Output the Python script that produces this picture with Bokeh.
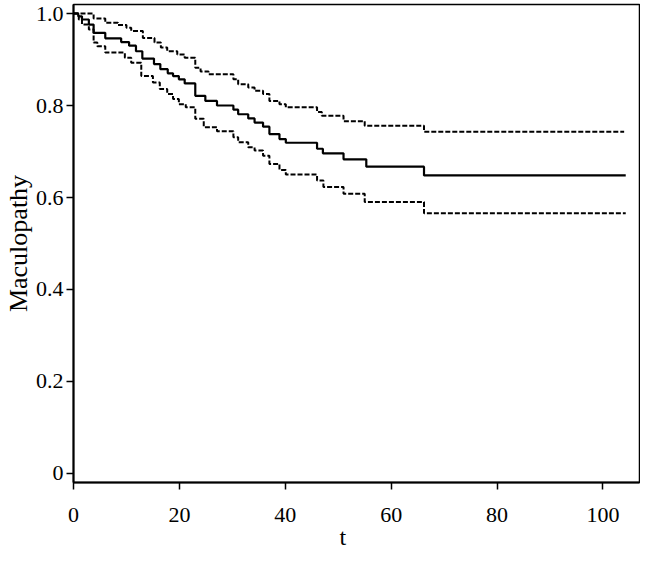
from bokeh.plotting import figure
from bokeh.models import Range1d, FixedTicker, Title
from bokeh.embed import file_html
from bokeh.resources import INLINE

# Kaplan-Meier estimate (step after each time)
t_km = [0, 0.9, 1.6, 2.9, 3.8, 6.0, 9.0, 10.5, 11.8, 13.0, 15.2, 16.4, 17.8, 18.8, 19.9, 21.0,
        23.0, 24.9, 27.1, 30.2, 31.1, 33.0, 34.2, 35.8, 37.0, 38.9, 40.1, 46.0, 47.1, 51.0,
        55.3, 66.2, 104.3]
s_km = [1.0, 0.994, 0.987, 0.976, 0.958, 0.946, 0.938, 0.930, 0.918, 0.902, 0.890, 0.879,
        0.870, 0.864, 0.857, 0.848, 0.821, 0.810, 0.800, 0.791, 0.781, 0.772, 0.763, 0.754,
        0.738, 0.727, 0.719, 0.706, 0.696, 0.683, 0.667, 0.648, 0.648]

t_upper = [0, 3.8, 6.0, 8.4, 10.0, 10.9, 13.1, 15.3, 16.5, 17.7, 19.6, 21.0, 23.0, 24.0, 25.5,
           30.2, 31.1, 33.0, 34.2, 35.8, 37.0, 38.9, 40.1, 46.0, 46.9, 51.0, 55.0, 66.2, 104.0]
s_upper = [1.0, 0.989, 0.980, 0.975, 0.969, 0.962, 0.947, 0.937, 0.926, 0.918, 0.911, 0.904,
           0.882, 0.874, 0.868, 0.857, 0.846, 0.839, 0.832, 0.825, 0.810, 0.803, 0.796, 0.786,
           0.778, 0.766, 0.756, 0.743, 0.743]

t_lower = [0, 1.0, 1.6, 2.9, 3.8, 4.5, 6.0, 9.7, 10.9, 12.8, 15.0, 16.3, 17.7, 18.8, 19.9, 21.2,
           23.0, 24.6, 27.1, 30.2, 31.1, 33.0, 34.2, 35.8, 37.0, 38.9, 40.1, 46.0, 47.2, 51.0,
           55.0, 66.2, 104.3]
s_lower = [1.0, 0.987, 0.976, 0.965, 0.937, 0.929, 0.915, 0.904, 0.893, 0.864, 0.850, 0.836,
           0.825, 0.814, 0.803, 0.796, 0.771, 0.753, 0.744, 0.731, 0.720, 0.709, 0.702, 0.691,
           0.673, 0.660, 0.650, 0.637, 0.623, 0.608, 0.590, 0.566, 0.566]

x_ticks = [0, 20, 40, 60, 80, 100]
y_ticks = [0, 0.2, 0.4, 0.6, 0.8, 1.0]
y_tick_labels = ["0", "0.2", "0.4", "0.6", "0.8", "1.0"]

FONT = "Liberation Serif"

p = figure(width=640, height=557, output_backend="svg", toolbar_location=None,
           x_range=Range1d(0, 106.9), y_range=Range1d(-0.0196, 1.0196),
           min_border_left=65, min_border_right=1, min_border_top=4, min_border_bottom=75)
p.background_fill_color = "white"
p.border_fill_color = "white"
p.outline_line_color = "black"
p.outline_line_width = 1.5
p.xgrid.visible = False
p.ygrid.visible = False

p.step(t_km, s_km, mode="after", line_color="black", line_width=2.2)
p.step(t_upper, s_upper, mode="after", line_color="black", line_width=2, line_dash="5 2")
p.step(t_lower, s_lower, mode="after", line_color="black", line_width=2, line_dash="5 2")

for ax in (p.xaxis[0], p.yaxis[0]):
    ax.axis_line_width = 2
    ax.axis_line_color = "black"
    ax.major_tick_line_width = 1.5
    ax.major_tick_line_color = "black"
    ax.major_tick_out = 7
    ax.major_tick_in = 0
    ax.minor_tick_line_color = None
    ax.major_label_text_font = FONT
    ax.major_label_text_font_size = "22px"
    ax.major_label_text_color = "black"
    ax.axis_label_text_font = FONT
    ax.axis_label_text_font_size = "26px"
    ax.axis_label_text_font_style = "normal"
    ax.axis_label_text_color = "black"

p.xaxis.ticker = FixedTicker(ticks=x_ticks)
p.yaxis.ticker = FixedTicker(ticks=y_ticks)
p.yaxis.major_label_overrides = {v: s for v, s in zip(y_ticks, y_tick_labels)}
p.xaxis.major_label_standoff = 18
p.yaxis.major_label_standoff = 3
p.yaxis.axis_label = "Maculopathy"
p.yaxis.axis_label_standoff = 0

p.add_layout(Title(text="t", align="left", offset=266, standoff=-6,
                   text_font=FONT, text_font_size="24px", text_font_style="normal",
                   text_color="black"), "below")

open("out.html", "w").write(file_html(p, INLINE))
